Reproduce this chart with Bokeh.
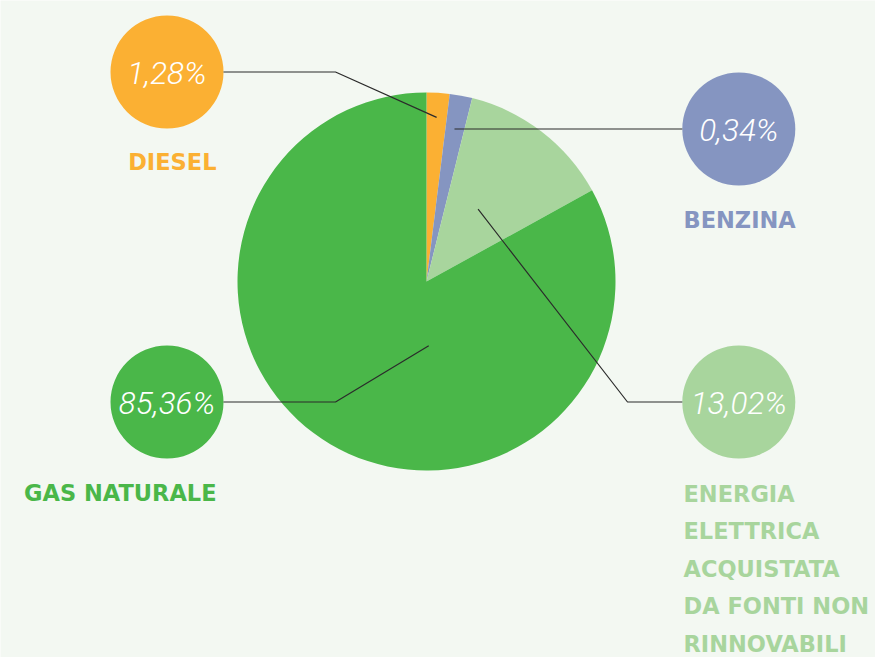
import math
from bokeh.plotting import figure
from bokeh.models import Range1d, ColumnDataSource
from bokeh.core.properties import value
from bokeh.embed import file_html
from bokeh.resources import INLINE

# ---- data ----
categories = ["DIESEL", "BENZINA", "ENERGIA ELETTRICA ACQUISTATA DA FONTI NON RINNOVABILI", "GAS NATURALE"]
label_pct = ["1,28%", "0,34%", "13,02%", "85,36%"]
# slice shares as drawn in the picture (small slices drawn larger than their value)
slice_share = [1.96, 1.93, 13.1, 83.01]
colors = ["#fbb033", "#8595c1", "#a8d59d", "#4ab749"]
label_lines = [["DIESEL"], ["BENZINA"],
               ["ENERGIA", "ELETTRICA", "ACQUISTATA", "DA FONTI NON", "RINNOVABILI"],
               ["GAS NATURALE"]]

W, H = 875, 657
BG = "#f3f8f2"

p = figure(width=W, height=H, x_range=Range1d(0, W), y_range=Range1d(0, H),
           output_backend="svg", toolbar_location=None, min_border=0,
           background_fill_color=BG, border_fill_color=BG, outline_line_color=None)
p.axis.visible = False
p.grid.visible = False

def Y(py):
    return H - py

# pie
cx, cy, R = 426, Y(281), 189
total = sum(slice_share)
starts, ends, mids = [], [], []
cum = 0.0
for s in slice_share:
    a0 = math.pi / 2 - cum / total * 2 * math.pi
    cum += s
    a1 = math.pi / 2 - cum / total * 2 * math.pi
    starts.append(a0); ends.append(a1); mids.append((a0 + a1) / 2)
src = ColumnDataSource(dict(start=starts, end=ends, color=colors))
p.wedge(x=cx, y=cy, radius=R, start_angle="start", end_angle="end",
        direction="clock", fill_color="color", line_color=None, source=src)

# bubbles
bx = [166.5, 738.3, 738.3, 166.5]
by = [Y(71.5), Y(128.5), Y(401.5), Y(401.5)]
br = 56.5
p.circle(x=bx, y=by, radius=br, fill_color=colors, line_color=None)
p.text(x=bx, y=[v - 1 for v in by], text=label_pct, text_color="white",
       text_font=value("Roboto Light, Roboto"), text_font_style="italic",
       text_font_size="31.5px", text_align="center", text_baseline="middle")

# leader lines
def anchor(i, frac, angle=None):
    a = mids[i] if angle is None else angle
    return cx + R * frac * math.cos(a), cy + R * frac * math.sin(a)

lc = "#2b2b2b"
# diesel
ax, ay = anchor(0, 0.87)
p.line([bx[0] + br, 335, ax], [by[0], by[0], ay], line_color=lc, line_width=1.2)
# benzina
ax, ay = anchor(1, 0.81)
p.line([ax, bx[1] - br], [by[1], by[1]], line_color=lc, line_width=1.2)
# energia
ax, ay = anchor(2, 0.47, math.radians(90 - 35.5))
p.line([ax, 627, bx[2] - br], [ay, by[2], by[2]], line_color=lc, line_width=1.2)
# gas
ax, ay = anchor(3, 0.34, math.radians(90 - 178))
p.line([bx[3] + br, 335, ax], [by[3], by[3], ay], line_color=lc, line_width=1.2)

# category labels
fs = "22.5px"
cat_font = value("DejaVu Sans")
p.text(x=[216], y=[Y(161)], text=label_lines[0], text_color=colors[0],
       text_font=cat_font, text_font_style="bold", text_font_size=fs,
       text_align="right", text_baseline="middle")
p.text(x=[683], y=[Y(219)], text=label_lines[1], text_color=colors[1],
       text_font=cat_font, text_font_style="bold", text_font_size=fs,
       text_align="left", text_baseline="middle")
ey = [Y(493 + 37.6 * k) for k in range(len(label_lines[2]))]
p.text(x=[683] * len(ey), y=ey, text=label_lines[2], text_color=colors[2],
       text_font=cat_font, text_font_style="bold", text_font_size=fs,
       text_align="left", text_baseline="middle")
p.text(x=[216], y=[Y(492)], text=label_lines[3], text_color=colors[3],
       text_font=cat_font, text_font_style="bold", text_font_size=fs,
       text_align="right", text_baseline="middle")

open("out.html", "w").write(file_html(p, INLINE))
